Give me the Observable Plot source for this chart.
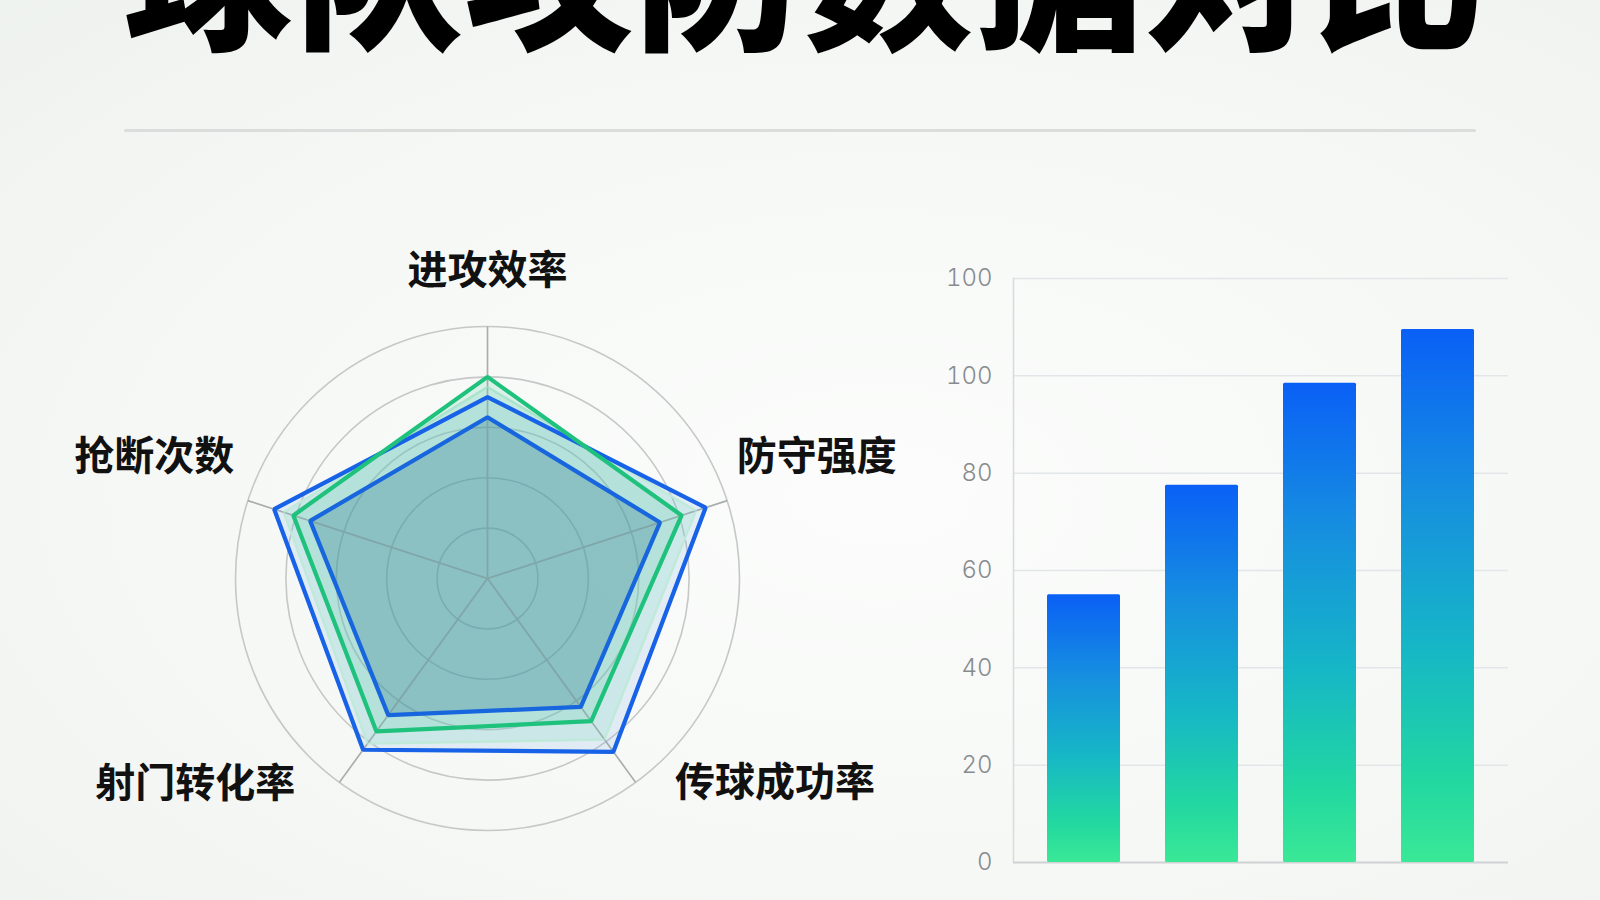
<!DOCTYPE html>
<html><head><meta charset="utf-8">
<script src="https://cdn.jsdelivr.net/npm/d3@7"></script>
<script src="https://cdn.jsdelivr.net/npm/@observablehq/plot@0.6"></script>
<style>
html,body{margin:0;padding:0;}
body{width:1600px;height:900px;overflow:hidden;}
#page{position:relative;width:1600px;height:900px;overflow:hidden;background:radial-gradient(ellipse at 55% 55%, #fbfcfb 0%, #f6f8f6 55%, #eef2ef 100%);font-family:"Noto Sans CJK SC",sans-serif;}
#title{position:absolute;left:4px;width:1600px;top:-121px;text-align:center;font-size:169px;line-height:169px;font-weight:900;color:#000;margin:0;white-space:nowrap;letter-spacing:1px;}
#rule{position:absolute;left:124px;top:128.5px;width:1352px;height:3px;background:#dadddc;border-radius:2px;}
#radar{position:absolute;left:0;top:150px;}
#bars{position:absolute;left:900px;top:250px;}
</style></head><body>
<div id="page">
<h1 id="title">球队攻防数据对比</h1>
<div id="rule"></div>
<div id="radar"></div>
<div id="bars"></div>
</div>
<script>
// ---- radar data ----
const dimensions = ["进攻效率", "防守强度", "传球成功率", "射门转化率", "抢断次数"];
const teamOuter = [72, 91, 85, 84, 89];
const teamMint  = [76, 87, 79, 81, 85];
const teamGreen = [80, 81, 70, 75, 81];
const teamInner = [64, 72, 63, 67, 74];
const ringLevels = [20, 40, 60, 80, 100];

// ---- bar data ----
const barTeams = ["球队A", "球队B", "球队C", "球队D"];
const barValues = [55, 77.5, 98.5, 109.5];
const barTicks = [0, 20, 40, 60, 80, 100, 120];
const barTickLabels = ["0", "20", "40", "60", "80", "100", "100"];

// ---- radar layout ----
const RW = 960, RH = 730, CX = 487, CY = 428, RPX = 252;
const axisAngle = i => (-90 + 72 * i) * Math.PI / 180;
const labelAngles = [-90, -20.3, 35.4, 144.9, 200];
const labelRadius = [1.218, 1.393, 1.40, 1.417, 1.407];
const px = (v, a) => Math.cos(a) * v / 100;
const py = (v, a) => -Math.sin(a) * v / 100;
const pts = vals => vals.map((v, i) => ({x: px(v, axisAngle(i)), y: py(v, axisAngle(i))}));

const radar = Plot.plot({
  width: RW, height: RH, margin: 0,
  x: {domain: [-CX / RPX, (RW - CX) / RPX], axis: null},
  y: {domain: [-(RH - CY) / RPX, CY / RPX], axis: null},
  r: {type: "identity"},
  style: {background: "transparent", overflow: "visible"},
  marks: [
    Plot.dot(ringLevels, {x: 0, y: 0, r: d => d / 100 * RPX, stroke: "#c6c8c8", strokeWidth: 1.6, fill: "none"}),
    Plot.link(dimensions, {x1: 0, y1: 0, x2: (d, i) => px(100, axisAngle(i)), y2: (d, i) => py(100, axisAngle(i)), stroke: "#b4b6b6", strokeWidth: 1.6}),
    Plot.line(pts(teamOuter), {x: "x", y: "y", curve: "linear-closed", fill: "#5d9fe6", fillOpacity: 0.14, stroke: "none"}),
    Plot.line(pts(teamMint), {x: "x", y: "y", curve: "linear-closed", fill: "#7fdcbf", fillOpacity: 0.22, stroke: "#bfead9", strokeWidth: 2.4}),
    Plot.line(pts(teamGreen), {x: "x", y: "y", curve: "linear-closed", fill: "#3cbf96", fillOpacity: 0.16, stroke: "none"}),
    Plot.line(pts(teamInner), {x: "x", y: "y", curve: "linear-closed", fill: "#2f7690", fillOpacity: 0.30, stroke: "none"}),
    Plot.link(dimensions, {x1: 0, y1: 0, x2: (d, i) => px(100, axisAngle(i)), y2: (d, i) => py(100, axisAngle(i)), stroke: "#9aa3a3", strokeOpacity: 0.45, strokeWidth: 1.4}),
    Plot.line(pts(teamOuter), {x: "x", y: "y", curve: "linear-closed", stroke: "#1762e6", strokeWidth: 4.2, strokeLinejoin: "miter"}),
    Plot.line(pts(teamGreen), {x: "x", y: "y", curve: "linear-closed", stroke: "#1fc27c", strokeWidth: 4.2, strokeLinejoin: "miter"}),
    Plot.line(pts(teamInner), {x: "x", y: "y", curve: "linear-closed", stroke: "#1866de", strokeWidth: 4.2, strokeLinejoin: "miter"}),
    Plot.text(dimensions, {
      x: (d, i) => Math.cos(labelAngles[i] * Math.PI / 180) * labelRadius[i],
      y: (d, i) => -Math.sin(labelAngles[i] * Math.PI / 180) * labelRadius[i],
      text: d => d, fontSize: 40, fontWeight: 700, fill: "#111", fontFamily: "Noto Sans CJK SC"
    })
  ]
});
document.getElementById("radar").append(radar);

// ---- bars ----
const gradDefs = () => {
  const ns = "http://www.w3.org/2000/svg";
  const defs = document.createElementNS(ns, "defs");
  defs.innerHTML = `<linearGradient id="barGrad" x1="0" y1="0" x2="0" y2="1">
    <stop offset="0" stop-color="#0a60f6"/>
    <stop offset="0.3" stop-color="#168ee0"/>
    <stop offset="0.6" stop-color="#16b7c6"/>
    <stop offset="0.85" stop-color="#22d8a0"/>
    <stop offset="1" stop-color="#3ae896"/>
  </linearGradient>`;
  return defs;
};

const bars = Plot.plot({
  width: 640, height: 640,
  marginLeft: 113, marginRight: 32, marginTop: 28, marginBottom: 28,
  x: {domain: barTeams, paddingInner: 0.38, paddingOuter: 0.28, axis: null},
  y: {domain: [0, 120]},
  style: {background: "transparent", overflow: "visible"},
  marks: [
    gradDefs,
    Plot.gridY(barTicks.slice(1), {stroke: "#e3e6e9", strokeOpacity: 1, strokeWidth: 1.5}),
    Plot.frame({anchor: "left", stroke: "#d8dbdd", strokeWidth: 1.5}),
    Plot.ruleY([0], {stroke: "#cfd2d4", strokeWidth: 1.8}),
    Plot.barY(barValues, {x: (d, i) => barTeams[i], y: d => d, fill: "url(#barGrad)", rx: 1.5}),
    Plot.axisY(barTicks, {tickSize: 0, tickPadding: 21, tickFormat: d => barTickLabels[barTicks.indexOf(d)], fontSize: 24, fontWeight: 300, fill: "#888b8e", fontFamily: "Inter, sans-serif"})
  ]
});
document.getElementById("bars").append(bars);
</script>
</body></html>
